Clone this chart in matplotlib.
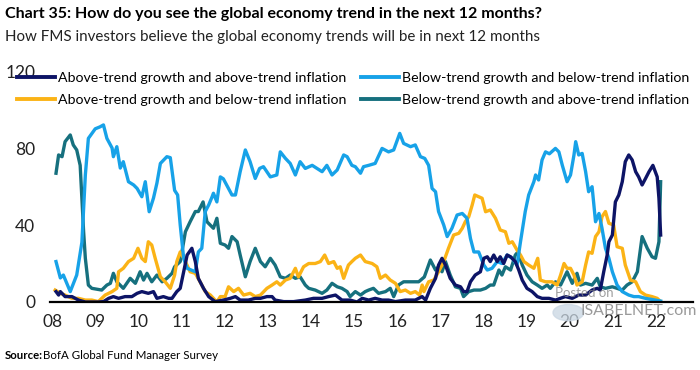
import matplotlib
matplotlib.use('Agg')
import matplotlib.pyplot as plt
from matplotlib.lines import Line2D
from matplotlib.patches import Circle

# narrow-ish sans to get close to the condensed house font
plt.rcParams['font.family'] = ['Lato', 'DejaVu Sans']

# ---- data (decimal year, % of respondents) ----
years = list(range(2008, 2023))
year_labels = ['08', '09', '10', '11', '12', '13', '14', '15', '16', '17', '18', '19', '20', '21', '22']
y_ticks = [0, 40, 80, 120]

# Above-trend growth and above-trend inflation
aa_dates = [2008.09, 2008.15, 2008.19, 2008.30, 2008.46, 2008.61, 2008.77, 2009.07, 2009.19, 2009.31,
            2009.42, 2009.54, 2009.69, 2009.85, 2009.97, 2010.08, 2010.23, 2010.35, 2010.43, 2010.58,
            2010.70, 2010.78, 2010.89, 2010.97, 2011.05, 2011.13, 2011.24, 2011.32, 2011.39, 2011.51,
            2011.63, 2011.78, 2011.97, 2012.13, 2012.25, 2012.36, 2012.55, 2012.71, 2012.83, 2012.98,
            2013.10, 2013.17, 2013.37, 2013.60, 2013.87, 2014.06, 2014.26, 2014.41, 2014.57, 2014.72,
            2014.91, 2015.07, 2015.19, 2015.34, 2015.49, 2015.65, 2015.80, 2015.96, 2016.19, 2016.42,
            2016.58, 2016.66, 2016.77, 2016.89, 2016.96, 2017.04, 2017.12, 2017.23, 2017.35, 2017.47,
            2017.54, 2017.62, 2017.70, 2017.81, 2017.93, 2018.01, 2018.09, 2018.16, 2018.24, 2018.32,
            2018.39, 2018.47, 2018.55, 2018.63, 2018.74, 2018.82, 2018.90, 2019.01, 2019.13, 2019.25,
            2019.36, 2019.52, 2019.67, 2019.90, 2020.06, 2020.21, 2020.37, 2020.52, 2020.64, 2020.71,
            2020.79, 2020.87, 2020.91, 2020.99, 2021.06, 2021.14, 2021.22, 2021.29, 2021.37, 2021.45,
            2021.53, 2021.60, 2021.68, 2021.76, 2021.84, 2021.93, 2022.03, 2022.07, 2022.11]
aa_vals = [5.4, 3.6, 5.4, 2.8, 2.8, 1, 0, 0, 0.2, 1.9,
           2.8, 1.9, 2.8, 2.8, 4.5, 5.4, 4.5, 5.4, 1.9, 2.8,
           1.9, 1.9, 5.4, 7.1, 15.7, 24.4, 27.9, 21, 12.3, 7.1,
           2.8, 0.2, 1, 1.9, 2.8, 1, 1, 1.9, 1.9, 2.8,
           2.8, 1, 0.2, 0.2, 1, 1.9, 1.9, 2.8, 3.6, 1,
           1, 0, 1.9, 1, 1.9, 1, 1, 0.2, 1, 1,
           2.8, 1, 7.1, 12.3, 19.2, 22.7, 19.2, 12.3, 8.8, 7.9,
           5.4, 5.4, 10.5, 14, 15.7, 22.7, 23.5, 21, 24.4, 21,
           23.5, 20, 24.4, 23.5, 21, 16.6, 11.4, 7.1, 5.4, 2.8,
           1.9, 1.9, 1, 2.8, 1.9, 3.6, 3.6, 6.2, 7.1, 6.2,
           15.7, 24.4, 31.3, 34.8, 52, 55.6, 62.5, 72.9, 76.4, 73.8,
           67.7, 65, 60.8, 64.2, 67.7, 71, 65, 53.9, 34.8]

# Below-trend growth and below-trend inflation
bb_dates = [2008.09, 2008.19, 2008.26, 2008.42, 2008.57, 2008.69, 2008.77, 2008.84, 2009.00, 2009.11,
            2009.19, 2009.27, 2009.39, 2009.42, 2009.50, 2009.58, 2009.65, 2009.77, 2009.89, 2009.97,
            2010.08, 2010.16, 2010.25, 2010.35, 2010.43, 2010.51, 2010.66, 2010.74, 2010.84, 2010.91,
            2010.97, 2011.05, 2011.13, 2011.32, 2011.39, 2011.47, 2011.55, 2011.63, 2011.71, 2011.74,
            2011.82, 2011.90, 2011.97, 2012.09, 2012.17, 2012.25, 2012.36, 2012.48, 2012.59, 2012.71,
            2012.81, 2012.90, 2013.06, 2013.21, 2013.29, 2013.41, 2013.52, 2013.64, 2013.75, 2013.87,
            2014.03, 2014.26, 2014.37, 2014.49, 2014.61, 2014.76, 2014.84, 2014.95, 2015.03, 2015.15,
            2015.22, 2015.34, 2015.49, 2015.65, 2015.80, 2015.92, 2016.06, 2016.15, 2016.31, 2016.42,
            2016.54, 2016.64, 2016.73, 2016.81, 2016.89, 2016.96, 2017.08, 2017.16, 2017.27, 2017.39,
            2017.51, 2017.62, 2017.70, 2017.78, 2017.89, 2018.01, 2018.09, 2018.20, 2018.32, 2018.43,
            2018.55, 2018.67, 2018.78, 2018.86, 2018.97, 2019.05, 2019.17, 2019.21, 2019.28, 2019.36,
            2019.44, 2019.53, 2019.67, 2019.75, 2019.83, 2019.94, 2020.02, 2020.10, 2020.14, 2020.21,
            2020.29, 2020.37, 2020.44, 2020.52, 2020.60, 2020.68, 2020.75, 2020.83, 2020.91, 2020.99,
            2021.10, 2021.22, 2021.37, 2021.49, 2021.60, 2021.76, 2021.99, 2022.11]
bb_vals = [21, 12.5, 14, 5.4, 14, 31, 66, 85, 90, 91,
           92, 85, 80, 75.5, 80.7, 69.6, 72.9, 62.5, 60.8, 59,
           54.7, 62.5, 46.9, 54, 61.8, 72, 75.5, 75, 58, 55.6,
           40, 22.7, 17.5, 15.7, 26, 27.9, 47, 50.4, 54.7, 56.5,
           52, 65, 64, 59, 55.6, 55.6, 67.7, 79, 72.9, 64.2,
           69.4, 70.3, 65, 66, 78, 74.6, 72, 66, 72.9, 69.4,
           71, 67.7, 71, 66, 68.6, 76.4, 75.5, 71, 70.3, 66.9,
           70.3, 71, 72, 79.8, 78, 79, 87.6, 82.4, 80.7, 81.6,
           75.5, 74.6, 71, 59, 57.3, 47, 40, 34, 38.3, 45.2,
           46, 43.5, 33, 26, 26, 19.2, 16.6, 17.5, 21, 20,
           24.4, 22.7, 19.2, 31.3, 47, 55.6, 62.5, 66, 63.4, 73.8,
           78, 77, 79.8, 78, 71, 62.5, 66, 76.4, 83.3, 76.4,
           77.2, 67.7, 57.3, 59.9, 41.7, 46, 38.3, 27.9, 22.7, 15.7,
           8.8, 5.4, 3.6, 2.8, 2.8, 1.9, 1, 0.5]

# Above-trend growth and below-trend inflation
ab_dates = [2008.07, 2008.19, 2008.30, 2008.46, 2008.61, 2008.77, 2008.92, 2009.07, 2009.23, 2009.39,
            2009.50, 2009.54, 2009.65, 2009.77, 2009.89, 2009.99, 2010.08, 2010.16, 2010.23, 2010.31,
            2010.39, 2010.51, 2010.62, 2010.74, 2010.84, 2010.89, 2010.97, 2011.09, 2011.20, 2011.32,
            2011.43, 2011.55, 2011.67, 2011.82, 2011.90, 2012.01, 2012.09, 2012.21, 2012.32, 2012.44,
            2012.59, 2012.71, 2012.83, 2012.98, 2013.10, 2013.21, 2013.29, 2013.41, 2013.52, 2013.64,
            2013.71, 2013.83, 2013.95, 2014.10, 2014.22, 2014.32, 2014.41, 2014.53, 2014.61, 2014.68,
            2014.76, 2014.87, 2014.95, 2015.03, 2015.15, 2015.26, 2015.42, 2015.53, 2015.61, 2015.73,
            2015.84, 2015.96, 2016.07, 2016.19, 2016.31, 2016.42, 2016.52, 2016.58, 2016.62, 2016.73,
            2016.85, 2016.96, 2017.08, 2017.19, 2017.31, 2017.43, 2017.51, 2017.58, 2017.66, 2017.74,
            2017.80, 2017.89, 2017.97, 2018.05, 2018.16, 2018.28, 2018.39, 2018.51, 2018.59, 2018.67,
            2018.78, 2018.86, 2018.94, 2019.05, 2019.17, 2019.26, 2019.32, 2019.44, 2019.59, 2019.71,
            2019.79, 2019.87, 2019.94, 2020.02, 2020.10, 2020.17, 2020.29, 2020.37, 2020.44, 2020.52,
            2020.60, 2020.68, 2020.75, 2020.83, 2020.91, 2021.02, 2021.10, 2021.22, 2021.29, 2021.41,
            2021.53, 2021.64, 2021.76, 2021.91, 2022.03, 2022.11]
ab_vals = [6.2, 4.5, 3.6, 1.9, 1.9, 1, 1, 0.2, 3.6, 5.4,
           7.1, 15.7, 17.5, 21, 22.7, 27.9, 22.7, 21, 31.3, 29.6,
           22.7, 13.1, 10.5, 7.1, 14, 21, 26, 21, 15.7, 14.9,
           10.5, 5.4, 3.6, 0, 2.8, 2.8, 7.9, 5.4, 7.1, 3.6,
           4.5, 2.8, 3.6, 7.1, 8.8, 10.5, 8.8, 11.4, 12.3, 17.5,
           13, 18.3, 20, 20, 21, 24.4, 20, 21, 17.5, 18.3,
           12.3, 19.2, 21, 22.7, 24.4, 21, 20, 18.3, 12.3, 14,
           11.4, 9.7, 5.4, 6.2, 4.5, 5.4, 3.6, 8.8, 5.4, 10.5,
           11.4, 15.7, 21, 27.9, 34.8, 35.7, 38.3, 41.7, 44.3, 50.4,
           55.6, 54.7, 53.9, 46.9, 47.8, 43.5, 37.4, 36.5, 30.5, 31.3,
           27, 24.4, 21, 19.2, 17.5, 22.7, 11.4, 10.5, 10.5, 8.8,
           14, 20, 17.5, 17.5, 14, 8.8, 10.5, 19.2, 26, 25.3,
           34, 36.5, 44.3, 47, 40.9, 40, 28.7, 27.9, 19.2, 11.4,
           10.5, 5.4, 3.6, 2.8, 1.9, 0.2]

# Below-trend growth and above-trend inflation
ba_dates = [2008.09, 2008.15, 2008.23, 2008.30, 2008.42, 2008.49, 2008.57, 2008.65, 2008.69, 2008.73,
            2008.77, 2008.84, 2008.92, 2009.15, 2009.27, 2009.35, 2009.42, 2009.50, 2009.65, 2009.81,
            2009.93, 2010.04, 2010.12, 2010.20, 2010.31, 2010.43, 2010.55, 2010.66, 2010.78, 2010.84,
            2010.97, 2011.09, 2011.20, 2011.32, 2011.39, 2011.50, 2011.59, 2011.74, 2011.82, 2011.90,
            2012.01, 2012.09, 2012.17, 2012.29, 2012.36, 2012.48, 2012.59, 2012.71, 2012.83, 2012.94,
            2013.06, 2013.17, 2013.29, 2013.41, 2013.52, 2013.64, 2013.75, 2013.87, 2013.95, 2014.10,
            2014.26, 2014.37, 2014.49, 2014.61, 2014.72, 2014.84, 2014.91, 2015.03, 2015.15, 2015.26,
            2015.34, 2015.45, 2015.57, 2015.73, 2015.84, 2015.92, 2016.03, 2016.15, 2016.31, 2016.50,
            2016.63, 2016.77, 2016.89, 2016.96, 2017.04, 2017.12, 2017.23, 2017.35, 2017.47, 2017.54,
            2017.66, 2017.78, 2017.93, 2018.05, 2018.16, 2018.24, 2018.36, 2018.43, 2018.51, 2018.63,
            2018.74, 2018.80, 2018.90, 2019.01, 2019.13, 2019.25, 2019.36, 2019.48, 2019.55, 2019.67,
            2019.79, 2019.94, 2020.06, 2020.17, 2020.25, 2020.37, 2020.52, 2020.64, 2020.71, 2020.83,
            2020.99, 2021.10, 2021.22, 2021.33, 2021.45, 2021.57, 2021.68, 2021.80, 2021.91, 2021.99,
            2022.07, 2022.11]
ba_vals = [66.9, 76.4, 75.5, 83.3, 86.8, 81.6, 79, 71, 53.9, 36.5,
           22.7, 8.8, 7.1, 6.2, 8.8, 9.7, 14.9, 10.5, 7.1, 12.3,
           9.7, 15.7, 11.4, 14.9, 10.5, 14, 10.5, 12.3, 14.9, 18.3,
           21, 36.5, 41.7, 47, 47, 52, 41.7, 38.3, 43.5, 30.5,
           29.6, 27.9, 34, 31.3, 24.4, 13.1, 21, 27.9, 21, 18.3,
           22.7, 19.2, 13.1, 12.3, 14, 12.3, 13.1, 8.8, 7.1, 6.2,
           4.5, 6.2, 9.7, 7.9, 7.1, 5.4, 2.8, 5.4, 3.6, 5.4,
           6.2, 7.1, 4.5, 5.4, 7.1, 2.8, 8.8, 10.5, 10.5, 10.5,
           13, 21.8, 16.6, 18.3, 15.7, 21, 14, 7.9, 7.1, 2.8,
           5.4, 6.2, 6.2, 7.1, 8.8, 8.8, 16.6, 14, 18.3, 16.6,
           24.4, 26, 19.2, 14, 10.5, 8.8, 7.1, 8.8, 7.1, 10.5,
           8.8, 15.7, 9.7, 14.9, 8.8, 9.7, 8.8, 12.3, 7.9, 7.1,
           7.9, 7.1, 6.2, 8.8, 10.5, 15.7, 34, 27.9, 23.5, 22.7,
           31.3, 62.5]

navy = '#0d1466'
sky = '#17a2e8'
gold = '#fbb316'
teal = '#16707e'

fig = plt.figure(figsize=(7, 3.7), dpi=100)
ax = fig.add_axes([0.0714, 0.1838, 0.9186, 0.6242])

lw = 2.4
ax.plot(ba_dates, ba_vals, color=teal, lw=lw, solid_joinstyle='round')
ax.plot(ab_dates, ab_vals, color=gold, lw=lw, solid_joinstyle='round')
ax.plot(bb_dates, bb_vals, color=sky, lw=lw, solid_joinstyle='round')
ax.plot(aa_dates, aa_vals, color=navy, lw=lw, solid_joinstyle='round')

ax.set_xlim(2007.95, 2022.86)
ax.set_ylim(0, 120)
ax.set_xticks(years)
ax.set_xticklabels(year_labels)
ax.set_yticks(y_ticks)
ax.tick_params(axis='both', length=0, labelsize=12.5, colors='#222222')
ax.tick_params(axis='y', pad=10.5)
ax.tick_params(axis='x', pad=9)
for s in ['top', 'right', 'left']:
    ax.spines[s].set_visible(False)
ax.spines['bottom'].set_linewidth(1.6)
ax.spines['bottom'].set_color('black')

handles = [Line2D([], [], color=navy, lw=2.8),
           Line2D([], [], color=gold, lw=2.8),
           Line2D([], [], color=sky, lw=2.8),
           Line2D([], [], color=teal, lw=2.8)]
labels = ['Above-trend growth and above-trend inflation',
          'Above-trend growth and below-trend inflation',
          'Below-trend growth and below-trend inflation',
          'Below-trend growth and above-trend inflation']
fig.legend(handles, labels, ncol=2, loc='upper left', bbox_to_anchor=(0.024, 0.805),
           frameon=False, fontsize=10.2, handlelength=2.7, handletextpad=0.22,
           columnspacing=1.0, labelspacing=0.72, borderpad=0, borderaxespad=0)

# titles
fig.text(0.007, 0.962, 'Chart 35: How do you see the global economy trend in the next 12 months?',
         fontsize=11.5, fontweight='bold', va='center', ha='left')
fig.text(0.007, 0.9, 'How FMS investors believe the global economy trends will be in next 12 months',
         fontsize=10.9, va='center', ha='left', color='#222222')

# source
fig.text(0.007, 0.038, 'Source:', fontsize=8.2, fontweight='bold', va='center', ha='left')
fig.text(0.062, 0.038, 'BofA Global Fund Manager Survey', fontsize=8.3, va='center', ha='left')

# watermark
fig.text(0.793, 0.208, 'Posted on', fontsize=9.5, color='#888888', alpha=0.8, va='center')
fig.text(0.829, 0.16, 'ISABELNET.com', fontsize=11.5, color='#888888', alpha=0.85, va='center')
fig.patches.append(Circle((0.812, 0.155), 0.022, transform=fig.transFigure,
                          color='#c9d6e2', alpha=0.75))

fig.savefig('out.png', dpi=100)
